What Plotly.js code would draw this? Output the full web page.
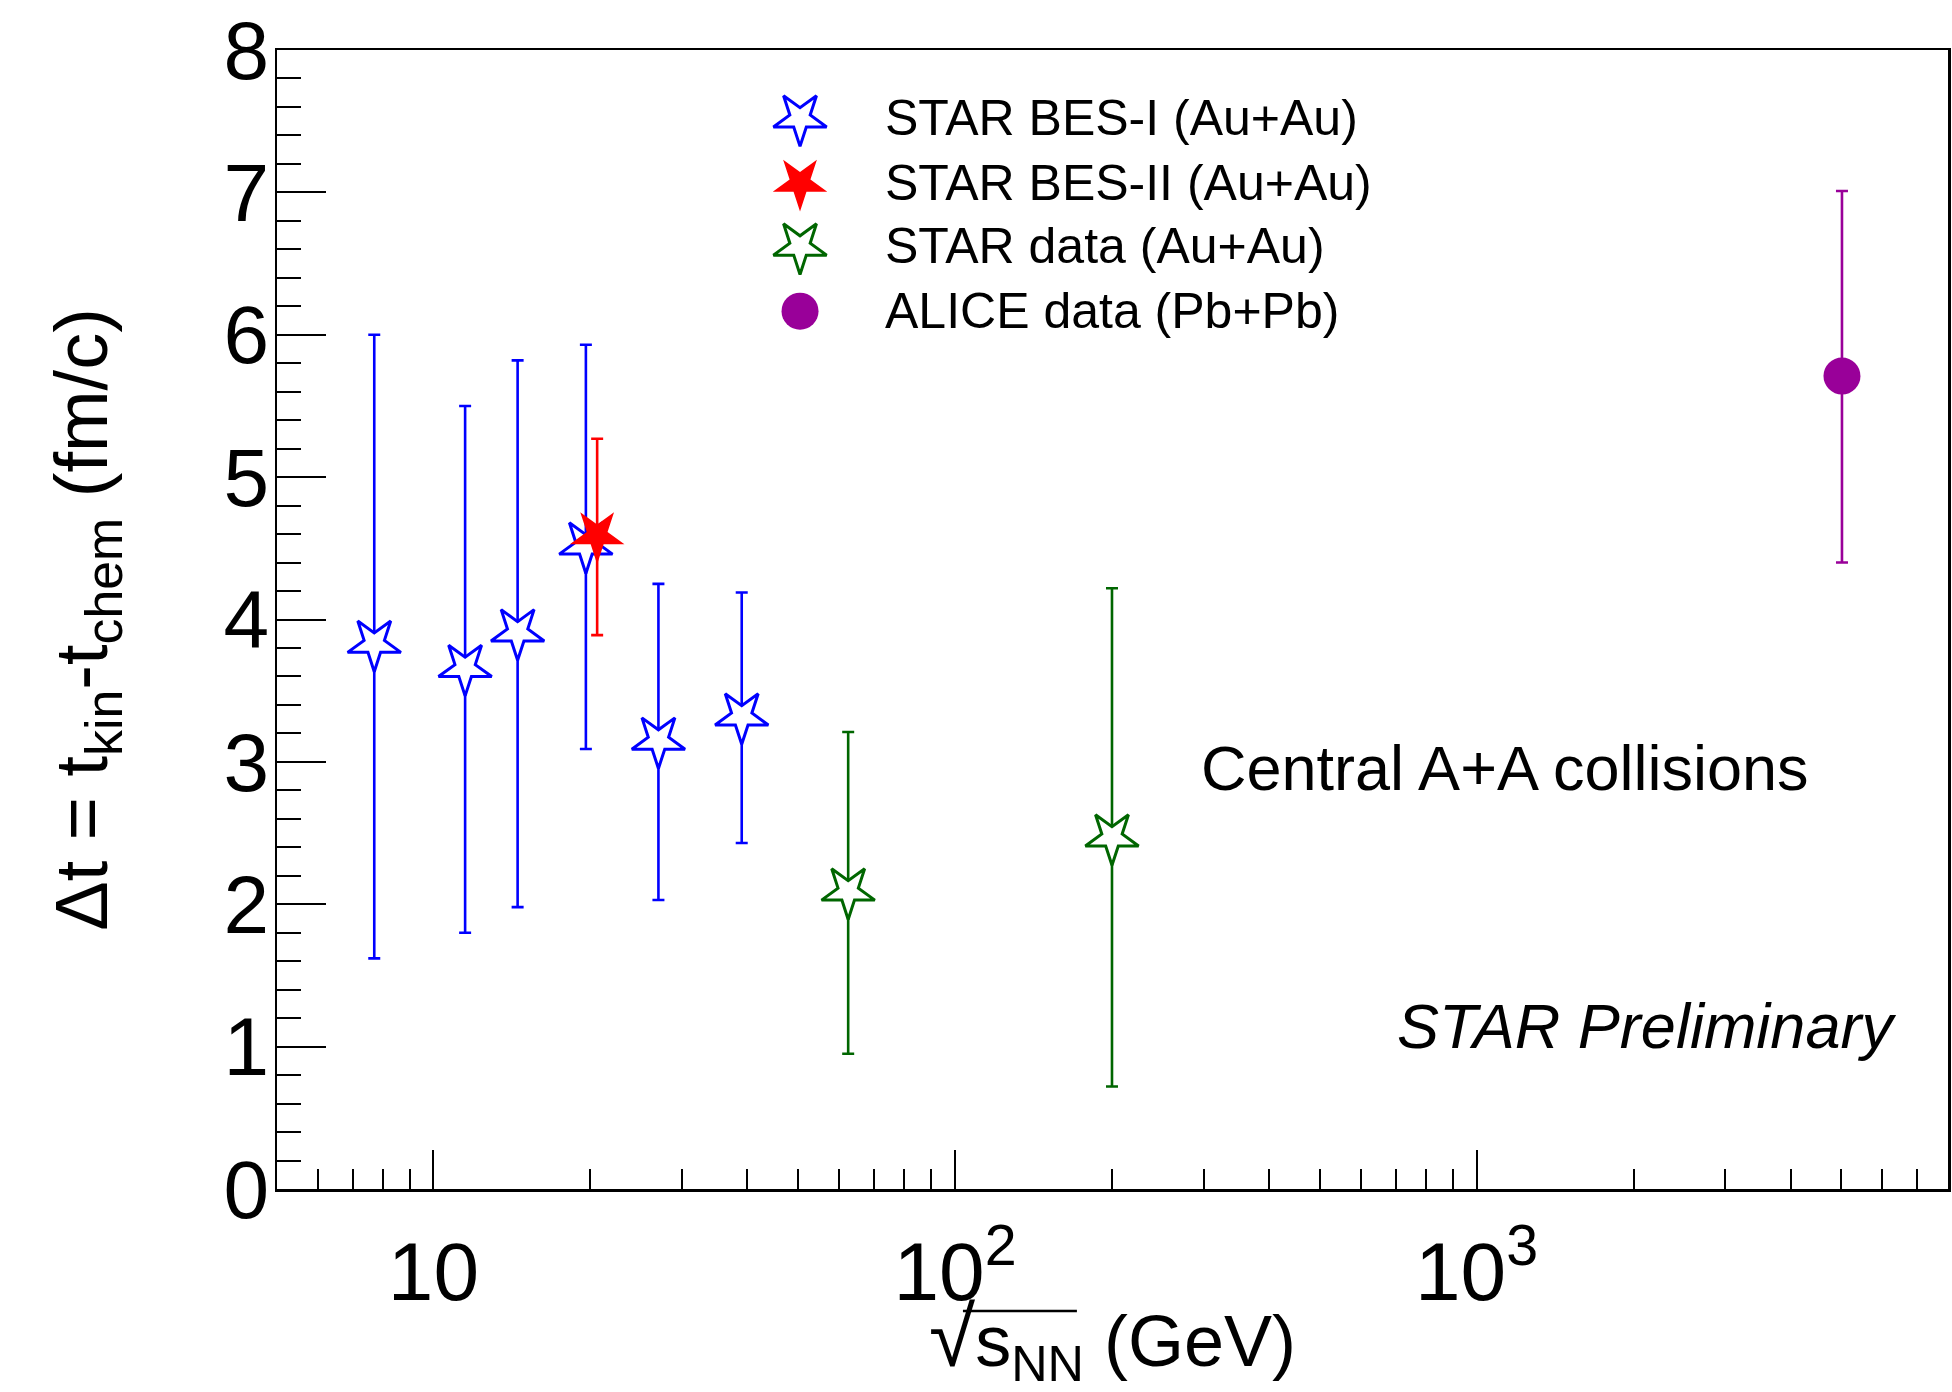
<!DOCTYPE html>
<html><head><meta charset="utf-8">
<script src="https://cdn.plot.ly/plotly-3.0.1.min.js"></script>
<style>html,body{margin:0;padding:0;background:#fff}</style>
</head><body><div id="chart" style="width:1952px;height:1392px"></div>
<script>
// ---- data ----
const besI_energy = [7.7, 11.5, 14.5, 19.6, 27, 39];
const besI_dt = [3.83, 3.66, 3.91, 4.52, 3.15, 3.32];
const besI_errUp = [2.17, 1.84, 1.91, 1.41, 1.10, 0.87];
const besI_errDown = [2.21, 1.86, 1.93, 1.43, 1.12, 0.89];

const besII_energy = [20.6];
const besII_dt = [4.59];
const besII_errUp = [0.68];
const besII_errDown = [0.70];

const star_energy = [62.4, 200];
const star_dt = [2.09, 2.47];
const star_errUp = [1.12, 1.75];
const star_errDown = [1.14, 1.75];

const alice_energy = [5020];
const alice_dt = [5.71];
const alice_errUp = [1.30];
const alice_errDown = [1.31];

const legendLabels = ["STAR BES-I (Au+Au)", "STAR BES-II (Au+Au)", "STAR data (Au+Au)", "ALICE data (Pb+Pb)"];
const xTickVals = [10, 100, 1000];
const xTickText = ["10", "10<sup>2</sup>", "10<sup>3</sup>"];
const xMinorVals = [6, 7, 8, 9, 20, 30, 40, 50, 60, 70, 80, 90, 200, 300, 400, 500, 600, 700, 800, 900, 2000, 3000, 4000, 5000, 6000, 7000];

// ---- styles ----
const FONT = '"Liberation Sans", Arial, Helvetica, sans-serif';
const BLUE = '#0000ff', RED = '#ff0000', GREEN = '#006600', PURPLE = '#990099';

function errY(up, down, color) {
  return {type: 'data', symmetric: false, array: up, arrayminus: down,
          color: color, thickness: 2.6, width: 6};
}
const starOpen = c => ({symbol: 'star', angle: 180, size: 40, color: '#ffffff', line: {color: c, width: 3}});
const starFill = c => ({symbol: 'star', angle: 180, size: 41, color: c, line: {color: c, width: 0}});
const circle = c => ({symbol: 'circle', size: 37, color: c, line: {width: 0}});

const markers = [starOpen(BLUE), starFill(RED), starOpen(GREEN), circle(PURPLE)];

const traces = [
  {x: besI_energy, y: besI_dt, error_y: errY(besI_errUp, besI_errDown, BLUE)},
  {x: besII_energy, y: besII_dt, error_y: errY(besII_errUp, besII_errDown, RED)},
  {x: star_energy, y: star_dt, error_y: errY(star_errUp, star_errDown, GREEN)},
  {x: alice_energy, y: alice_dt, error_y: errY(alice_errUp, alice_errDown, PURPLE)}
].map((t, i) => Object.assign(t, {type: 'scatter', mode: 'markers', marker: markers[i],
                                   name: legendLabels[i], showlegend: false, hoverinfo: 'skip'}));

// ---- hand-drawn legend (plotly caps legend symbol size at 16px) ----
const legX = 0.313, legTextX = 0.3624;
const legY = [0.9400, 0.8833, 0.8275, 0.7707];
legendLabels.forEach((lab, i) => {
  traces.push({type: 'scatter', mode: 'markers', x: [legX], y: [legY[i]], xaxis: 'x2', yaxis: 'y2',
               marker: markers[i], showlegend: false, hoverinfo: 'skip'});
});
const annotations = legendLabels.map((lab, i) => ({
  xref: 'paper', yref: 'paper', x: legTextX, y: legY[i], xanchor: 'left', yanchor: 'middle',
  text: lab, showarrow: false, font: {family: FONT, size: 50, color: '#000'}
}));
annotations.push({xref: 'paper', yref: 'paper', x: 0.5518, y: 0.3696, xanchor: 'left', yanchor: 'middle',
  text: 'Central A+A collisions', showarrow: false, font: {family: FONT, size: 63, color: '#000'}});
annotations.push({xref: 'paper', yref: 'paper', x: 0.6691, y: 0.1431, xanchor: 'left', yanchor: 'middle',
  text: '<i>STAR Preliminary</i>', showarrow: false, font: {family: FONT, size: 63, color: '#000'}});

const layout = {
  width: 1952, height: 1392,
  margin: {l: 277, r: 4, t: 50, b: 203, pad: 0},
  paper_bgcolor: '#fff', plot_bgcolor: '#fff',
  showlegend: false,
  font: {family: FONT, color: '#000'},
  xaxis: {
    type: 'log', range: [0.7, 3.904], autorange: false,
    tickmode: 'array', tickvals: xTickVals, ticktext: xTickText,
    ticks: 'inside', ticklen: 39, tickwidth: 2, tickcolor: '#000',
    minor: {tickmode: 'array', tickvals: xMinorVals, ticks: 'inside', ticklen: 20, tickwidth: 2, tickcolor: '#000', showgrid: false},
    showline: true, mirror: true, linecolor: '#000', linewidth: 2.5,
    showgrid: false, zeroline: false,
    tickfont: {family: FONT, size: 82, color: '#000'}, ticklabelstandoff: 10,
    title: {text: '<span style="font-size:84px">√</span>s<sub>NN</sub> (GeV)',
            font: {family: FONT, size: 72, color: '#000'}, standoff: 5}
  },
  yaxis: {
    range: [0, 8], autorange: false, tickmode: 'linear', tick0: 0, dtick: 1,
    ticks: 'inside', ticklen: 49, tickwidth: 2, tickcolor: '#000',
    minor: {dtick: 0.2, ticks: 'inside', ticklen: 24, tickwidth: 2, tickcolor: '#000', showgrid: false},
    showline: true, mirror: true, linecolor: '#000', linewidth: 2.5,
    showgrid: false, zeroline: false,
    tickfont: {family: FONT, size: 82, color: '#000'}, ticklabelstandoff: -11,
    title: {text: 'Δt = t<sub>kin</sub>-t<sub>chem</sub> (fm/c)',
            font: {family: FONT, size: 74, color: '#000'}, standoff: 92}
  },
  xaxis2: {overlaying: 'x', range: [0, 1], visible: false, fixedrange: true},
  yaxis2: {overlaying: 'y', range: [0, 1], visible: false, fixedrange: true},
  annotations: annotations,
  // overbar of the square-root sign in the x-axis title
  shapes: [{type: 'line', xref: 'paper', yref: 'paper', x0: 0.4105, x1: 0.4787, y0: -0.1071, y1: -0.1071,
            line: {color: '#000', width: 2.7}}]
};

Plotly.newPlot('chart', traces, layout, {staticPlot: true, displayModeBar: false});
</script></body></html>
